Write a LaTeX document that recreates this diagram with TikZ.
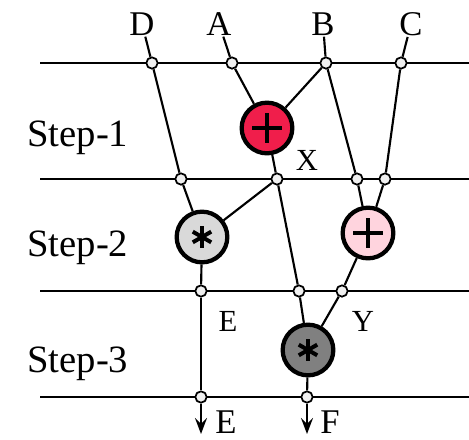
\documentclass[tikz,border=0pt]{standalone}
\usepackage{fontspec}
\setmainfont{Liberation Serif}
\usetikzlibrary{arrows.meta}
\definecolor{addred}{RGB}{240,30,75}
\definecolor{addpink}{RGB}{255,212,222}
\definecolor{mullight}{RGB}{217,217,217}
\definecolor{muldark}{RGB}{128,128,128}
\tikzstyle{wire} = [line width=1.6pt]
\tikzstyle{rail} = [line width=1.8pt]
\tikzstyle{arrow} = [line width=1.6pt, -{Stealth[length=12pt, width=9pt, inset=4.5pt]}]
\tikzstyle{port} = [circle, draw=black, line width=1.3pt, fill=black!6, inner sep=0pt, minimum size=8.5pt]
\tikzstyle{op} = [circle, draw=black, line width=3.2pt, inner sep=0pt, minimum size=38pt]
\tikzstyle{addop} = [op, path picture={
    \draw[line width=2.8pt] (path picture bounding box.center) ++(-11pt,0) -- ++(22pt,0);
    \draw[line width=2.8pt] (path picture bounding box.center) ++(0,-11pt) -- ++(0,22pt);}]
\tikzstyle{mulop} = [op, path picture={
    \foreach \a in {90,30,150}
        \draw[line width=3pt] (path picture bounding box.center) ++(\a:8pt) -- ++(\a+180:16pt);}]
\tikzstyle{letter} = [inner sep=1pt, font=\fontsize{26}{30}\selectfont]
\tikzstyle{small} = [inner sep=1pt, font=\fontsize{23}{27}\selectfont]
\tikzstyle{steplabel} = [inner sep=0pt, font=\fontsize{29}{34}\selectfont]

\begin{document}
\begin{tikzpicture}[x=0.75pt, y=-0.75pt]
    \useasboundingbox (0,0) rectangle (469,440);

    % step rails
    \foreach \n/\y in {1/63, 2/179, 3/291, 4/397} {
        \coordinate (W\n) at (40,\y);
        \coordinate (E\n) at (469,\y);
        \draw [rail] (W\n) -- (E\n);
    }

    \node (S1) [steplabel, anchor=base west] at (27,146) {Step-1};
    \node (S2) [steplabel, anchor=base west] at (27,256) {Step-2};
    \node (S3) [steplabel, anchor=base west] at (27,372) {Step-3};

    % inputs
    \node (D) [letter, anchor=base] at (142,35) {D};
    \node (A) [letter, anchor=base] at (219,35) {A};
    \node (B) [letter, anchor=base] at (323,35) {B};
    \node (C) [letter, anchor=base] at (411,35) {C};

    % ports on the rails
    \node (PD) [port] at (152,63) {};
    \node (PA) [port] at (232,63) {};
    \node (PB) [port] at (326,63) {};
    \node (PC) [port] at (401,63) {};

    \node (QD) [port] at (181,179) {};
    \node (QX) [port] at (277,179) {};
    \node (QB) [port] at (357,179) {};
    \node (QC) [port] at (385,179) {};

    \node (RE) [port] at (201,291) {};
    \node (RX) [port] at (299,291) {};
    \node (RY) [port] at (342,291) {};

    \node (TE) [port] at (201,397) {};
    \node (TF) [port] at (307,397) {};

    % operators
    \node (ADD1) [addop, fill=addred] at (267,128) {};
    \node (MUL1) [mulop, fill=mullight] at (202,237) {};
    \node (ADD2) [addop, fill=addpink] at (368,233) {};
    \node (MUL2) [mulop, fill=muldark] at (308,350) {};

    \node (X) [small, anchor=base] at (307,170) {X};
    \node (LE) [small, anchor=base] at (228,331) {E};
    \node (Y) [small, anchor=base] at (363,331) {Y};

    % outputs
    \coordinate (OE) at (201,434);
    \coordinate (OF) at (307,434);
    \node (LE2) [letter, inner sep=0pt, anchor=base] at (226,433) {E};
    \node (F) [letter, inner sep=0pt, anchor=base] at (330,433) {F};

    % step 1
    \draw [wire] (D) -- (PD);
    \draw [wire] (A) -- (PA);
    \draw [wire] (B) -- (PB);
    \draw [wire] (C) -- (PC);
    \draw [wire] (PA) -- (ADD1);
    \draw [wire] (PB) -- (ADD1);
    \draw [wire] (ADD1) -- (QX);
    \draw [wire] (PD) -- (QD);
    \draw [wire] (PB) -- (QB);
    \draw [wire] (PC) -- (QC);

    % step 2
    \draw [wire] (QD) -- (MUL1);
    \draw [wire] (QX) -- (MUL1);
    \draw [wire] (QB) -- (ADD2);
    \draw [wire] (QC) -- (ADD2);
    \draw [wire] (MUL1) -- (RE);
    \draw [wire] (ADD2) -- (RY);
    \draw [wire] (QX) -- (RX);

    % step 3
    \draw [wire] (RX) -- (MUL2);
    \draw [wire] (RY) -- (MUL2);
    \draw [wire] (RE) -- (TE);
    \draw [wire] (MUL2) -- (TF);
    \draw [arrow] (TE) -- (OE);
    \draw [arrow] (TF) -- (OF);
\end{tikzpicture}
\end{document}
